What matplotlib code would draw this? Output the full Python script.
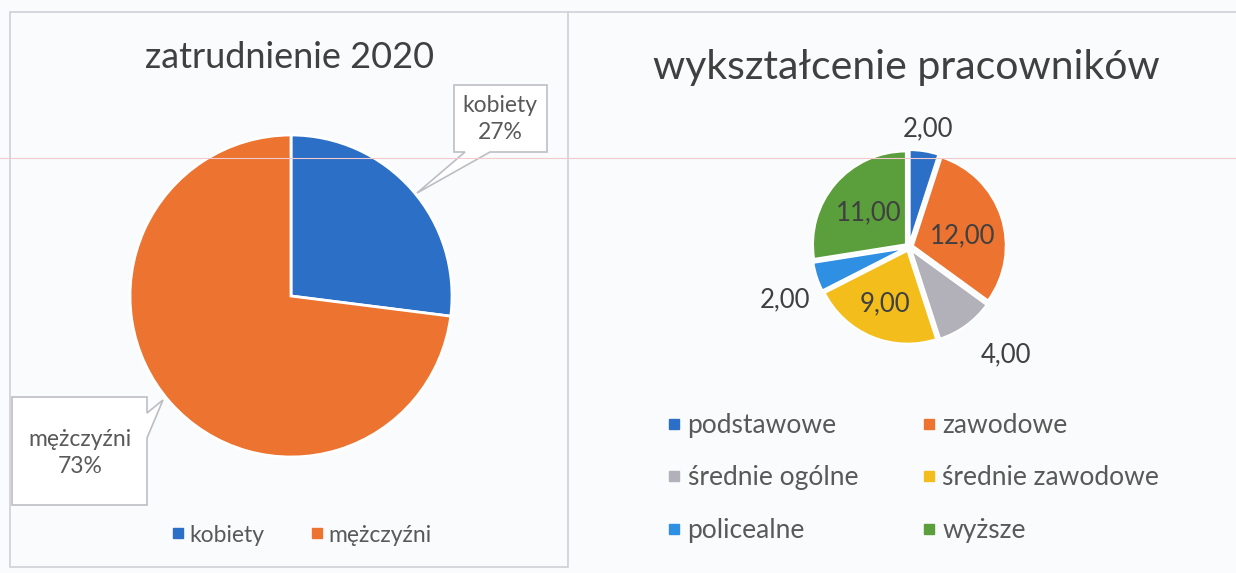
import matplotlib.pyplot as plt
import numpy as np
from matplotlib.patches import Polygon, Rectangle
from matplotlib.lines import Line2D

# data - left chart
gender_labels = ["kobiety", "mężczyźni"]
gender_share = [27, 73]

# data - right chart
edu_labels = ["podstawowe", "zawodowe", "średnie ogólne",
              "średnie zawodowe", "policealne", "wyższe"]
edu_values = [2.0, 12.0, 4.0, 9.0, 2.0, 11.0]

gender_colors = ["#2b6fc6", "#ec7330"]
edu_colors = ["#2b6fc6", "#ec7330", "#b2b0b8", "#f3bd1c", "#2f8fe2", "#5b9e3c"]

plt.rcParams["font.family"] = ["Lato", "DejaVu Sans"]
W, H = 1236, 573
TXT = "#595959"


def fx(x):
    return x / W


def fy(y):
    return 1 - y / H


def pie_axes(fig, cx, cy, r):
    # axes whose data coords -1..1 span a circle of radius r px
    ax = fig.add_axes([fx(cx - r), fy(cy + r), 2 * r / W, 2 * r / H])
    return ax


def fix_limits(ax):
    ax.set_xlim(-1, 1)
    ax.set_ylim(-1, 1)
    ax.set_aspect("equal")
    ax.axis("off")


fig = plt.figure(figsize=(W / 100, H / 100), dpi=100)
fig.patch.set_facecolor("#fafbfc")

# panel frames and scan line
fig.add_artist(Rectangle((fx(10), fy(567)), fx(558), (567 - 12) / H,
                         transform=fig.transFigure, fill=False,
                         edgecolor="#cfd0d6", lw=1.2))
fig.add_artist(Line2D([fx(568), 1], [fy(12), fy(12)], transform=fig.transFigure,
                      color="#cfd0d6", lw=1.2))
fig.add_artist(Line2D([0, 1], [fy(158), fy(158)], transform=fig.transFigure,
                      color="#f2c9cf", lw=0.8))

# ---- left pie
ax1 = pie_axes(fig, 291, 296, 161)
ax1.pie(gender_share, colors=gender_colors, startangle=90, counterclock=False,
        radius=1, wedgeprops=dict(edgecolor="white", linewidth=2))
fix_limits(ax1)
fig.text(fx(290), fy(57), "zatrudnienie 2020", ha="center", va="center",
         fontsize=26, color="#404040")

# callouts
callouts = [
    [(454, 85), (547, 85), (547, 152), (490, 152), (417, 193), (465, 152), (454, 152)],
    [(12, 397), (147, 397), (147, 413), (163, 400), (147, 438), (147, 505), (12, 505)],
]
callout_text_pos = [(500, 119), (80, 453)]
for pts, (tx, ty), lab, val in zip(callouts, callout_text_pos, gender_labels, gender_share):
    fig.add_artist(Polygon([(fx(x), fy(y)) for x, y in pts], closed=True,
                           transform=fig.transFigure, facecolor="white",
                           edgecolor="#bdbdc4", lw=1.2))
    fig.text(fx(tx), fy(ty), f"{lab}\n{val}%", ha="center", va="center",
             fontsize=16.5, color=TXT, linespacing=1.3)

h1 = [Line2D([], [], marker="s", ls="", color=c, markersize=7) for c in gender_colors]
fig.legend(h1, gender_labels, loc="center", bbox_to_anchor=(fx(300), fy(535)),
           ncol=2, frameon=False, fontsize=16.5, handletextpad=0.1, handlelength=0.8,
           columnspacing=1.9, labelcolor=TXT)

# ---- right pie
ax2 = pie_axes(fig, 909, 247, 100)
wedges, _ = ax2.pie(edu_values, colors=edu_colors, startangle=90, counterclock=False,
                    radius=0.93, explode=[0.04] * len(edu_values),
                    wedgeprops=dict(edgecolor="white", linewidth=1.5))
fix_limits(ax2)
fig.text(fx(906), fy(68), "wykształcenie pracowników", ha="center", va="center",
         fontsize=29.5, color="#404040")

label_dist = [1.2, 0.55, 1.45, 0.62, 1.35, 0.53]
label_turn = [0, -6, 6, 0, 5, 0]   # small angular nudges (deg) for label placement
for w, v, d, t in zip(wedges, edu_values, label_dist, label_turn):
    mid = np.deg2rad((w.theta1 + w.theta2) / 2 + t)
    ax2.text(d * np.cos(mid), d * np.sin(mid), f"{v:.2f}".replace(".", ","),
             ha="center", va="center", fontsize=18.5, color="#404040")

order = [0, 2, 4, 1, 3, 5]
h2 = [Line2D([], [], marker="s", ls="", color=edu_colors[i], markersize=7) for i in order]
fig.legend(h2, [edu_labels[i] for i in order], loc="upper left",
           bbox_to_anchor=(fx(640), fy(389)), ncol=2, frameon=False, fontsize=19,
           handletextpad=0.1, handlelength=0.8, columnspacing=2.3,
           labelspacing=1.05, labelcolor=TXT)

fig.savefig("out.png", dpi=100, facecolor=fig.get_facecolor())
